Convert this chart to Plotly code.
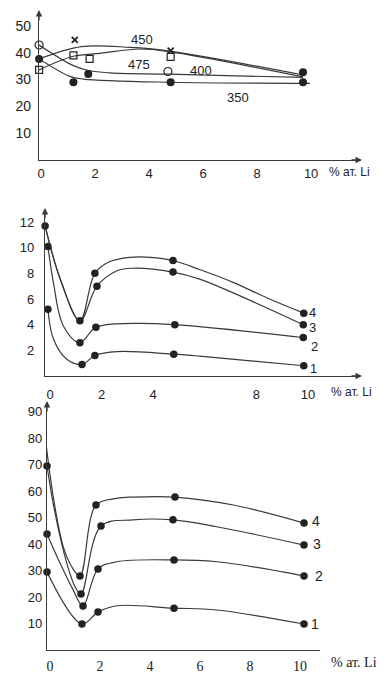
import plotly.graph_objects as go

W, H = 391, 687
OFF = 8  # page body margin in the viewer
INK = "#222222"
LINE = "#3a3a3a"
SANS = "Liberation Sans, Arial, sans-serif"
SERIF = "Liberation Serif, Times New Roman, serif"

# ---------------- Panel 1 data ----------------
p1_xticks = [0, 2, 4, 6, 8, 10]
p1_yticks = [10, 20, 30, 40, 50]
p1_open_circle_x = [-0.07, 4.7]
p1_open_circle_y = [42.9, 33.0]
p1_square_x = [-0.07, 1.2, 1.8, 4.8]
p1_square_y = [33.6, 39.0, 37.7, 38.5]
p1_cross_x = [1.25, 4.8]
p1_cross_y = [44.8, 40.8]
p1_dot_x = [-0.07, 1.2, 1.75, 4.8, 9.7, 9.7]
p1_dot_y = [37.7, 29.0, 32.1, 29.0, 32.7, 29.0]
p1_curves = {
    "450": ([-0.07, 1.5, 3.3, 4.65, 9.7], [37.7, 42.3, 42.0, 40.8, 31.7]),
    "475": ([-0.07, 1.2, 2.2, 3.67, 4.8, 9.7], [33.6, 38.7, 39.8, 41.4, 40.3, 31.0]),
    "400": ([-0.07, 1.2, 1.8, 2.55, 4.7, 9.7], [42.9, 35.2, 33.3, 32.5, 32.0, 30.8]),
    "350": ([-0.07, 1.07, 1.57, 4.78, 9.96], [37.7, 31.2, 30.2, 29.0, 28.6]),
}
p1_labels = ["450", "475", "400", "350"]

# ---------------- Panel 2 data ----------------
p2_xticks = [0, 2, 4, 8, 10]
p2_yticks = [2, 4, 6, 8, 10, 12]
p2_marker_x = [-0.19, -0.08, -0.08, 1.16, 1.16, 1.24, 1.74, 1.82, 1.78, 1.74,
               4.77, 4.77, 4.84, 4.8, 9.84, 9.82, 9.82, 9.84]
p2_marker_y = [11.7, 10.1, 5.2, 4.3, 2.6, 0.9, 8.0, 7.0, 3.8, 1.6,
               9.0, 8.1, 4.0, 1.7, 4.9, 4.0, 3.0, 0.8]
p2_curves = {
    "4": ([-0.19, 0.39, 1.16, 1.74, 2.3, 3.1, 3.9, 4.77, 5.8, 7.1, 8.4, 9.84],
          [11.7, 7.6, 4.3, 8.0, 8.9, 9.25, 9.25, 9.0, 8.3, 7.3, 6.1, 4.9]),
    "3": ([-0.19, 0.39, 1.16, 1.82, 2.6, 3.2, 4.77, 5.8, 9.82],
          [11.7, 7.6, 4.3, 7.0, 8.2, 8.4, 8.1, 7.55, 4.0]),
    "2": ([-0.08, 0.13, 0.52, 1.16, 1.78, 3.2, 4.84, 9.82],
          [10.1, 7.3, 3.9, 2.6, 3.8, 4.1, 4.0, 3.0]),
    "1": ([-0.08, 0.13, 0.65, 1.24, 1.74, 2.6, 4.8, 5.8, 9.84],
          [5.2, 2.9, 1.3, 0.9, 1.6, 1.9, 1.7, 1.55, 0.8]),
}

# ---------------- Panel 3 data ----------------
p3_xticks = [0, 2, 4, 6, 8, 10]
p3_yticks = [10, 20, 30, 40, 50, 60, 70, 80, 90]
p3_marker_x = [-0.24, -0.12, -0.12, -0.12, 1.2, 1.24, 1.32, 1.28, 1.84, 2.04, 1.92, 1.92,
               5.0, 4.92, 4.96, 4.96, 10.16, 10.16, 10.16, 10.16]
p3_marker_y = [84.2, 69.4, 43.8, 29.4, 27.9, 21.1, 16.6, 9.8, 54.7, 46.8, 30.6, 14.3,
               57.7, 49.1, 34.0, 15.8, 47.9, 39.6, 27.9, 9.8]
p3_curves = {
    "4": ([-0.24, 0.13, 0.53, 0.87, 1.2, 1.84, 2.67, 3.33, 5.0, 7.33, 10.16],
          [84.2, 57.8, 39.0, 31.4, 27.9, 54.7, 57.2, 57.7, 57.7, 54.7, 47.9]),
    "3": ([-0.12, 0.2, 0.67, 1.0, 1.24, 2.04, 3.33, 4.92, 6.67, 10.16],
          [69.4, 51.7, 32.8, 23.9, 21.1, 46.8, 49.1, 49.1, 46.5, 39.6]),
    "2": ([-0.12, 0.4, 0.93, 1.32, 1.92, 2.67, 4.96, 6.67, 9.3, 10.16],
          [43.8, 32.8, 22.6, 16.6, 30.6, 33.3, 34.0, 33.3, 29.5, 27.9]),
    "1": ([-0.12, 1.28, 1.92, 2.67, 4.96, 6.67, 10.16],
          [29.4, 9.8, 14.3, 16.7, 15.8, 15.1, 9.8]),
}


def px(x):
    return (x - OFF) / W


def py(y):
    return 1 - (y - OFF) / H


fig = go.Figure()

# curves
for name, (cx, cy) in p1_curves.items():
    fig.add_trace(go.Scatter(x=cx, y=cy, mode="lines", line=dict(color=LINE, width=1.2, shape="spline", smoothing=1.0),
                             xaxis="x", yaxis="y", showlegend=False, cliponaxis=False, hoverinfo="skip"))
for name, (cx, cy) in p2_curves.items():
    fig.add_trace(go.Scatter(x=cx, y=cy, mode="lines", line=dict(color=LINE, width=1.2, shape="spline", smoothing=1.0),
                             xaxis="x2", yaxis="y2", showlegend=False, cliponaxis=False, hoverinfo="skip"))
for name, (cx, cy) in p3_curves.items():
    fig.add_trace(go.Scatter(x=cx, y=cy, mode="lines", line=dict(color=LINE, width=1.2, shape="spline", smoothing=1.0),
                             xaxis="x3", yaxis="y3", showlegend=False, cliponaxis=False, hoverinfo="skip"))

# panel 1 markers
fig.add_trace(go.Scatter(x=p1_open_circle_x, y=p1_open_circle_y, mode="markers", xaxis="x", yaxis="y",
                         marker=dict(symbol="circle-open", size=8, color=INK, line=dict(width=1.2)),
                         showlegend=False, cliponaxis=False))
fig.add_trace(go.Scatter(x=p1_square_x, y=p1_square_y, mode="markers", xaxis="x", yaxis="y",
                         marker=dict(symbol="square-open", size=7, color=INK, line=dict(width=1.2)),
                         showlegend=False, cliponaxis=False))
fig.add_trace(go.Scatter(x=p1_cross_x, y=p1_cross_y, mode="markers", xaxis="x", yaxis="y",
                         marker=dict(symbol="x-thin", size=6, color=INK, line=dict(width=1.8, color=INK)),
                         showlegend=False, cliponaxis=False))
fig.add_trace(go.Scatter(x=p1_dot_x, y=p1_dot_y, mode="markers", xaxis="x", yaxis="y",
                         marker=dict(symbol="circle", size=8, color=INK),
                         showlegend=False, cliponaxis=False))
fig.add_trace(go.Scatter(x=p2_marker_x, y=p2_marker_y, mode="markers", xaxis="x2", yaxis="y2",
                         marker=dict(symbol="circle", size=7.5, color=INK),
                         showlegend=False, cliponaxis=False))
fig.add_trace(go.Scatter(x=p3_marker_x, y=p3_marker_y, mode="markers", xaxis="x3", yaxis="y3",
                         marker=dict(symbol="circle", size=7.5, color=INK),
                         showlegend=False, cliponaxis=False))

common = dict(showgrid=False, zeroline=False, showline=True, linecolor=LINE, linewidth=1.3,
              ticks="outside", tickcolor="rgba(0,0,0,0)", fixedrange=True, automargin=False)

fig.update_layout(
    template="none",
    width=W, height=H, margin=dict(l=0, r=0, t=0, b=0, pad=0, autoexpand=False),
    paper_bgcolor="white", plot_bgcolor="white", showlegend=False,
    xaxis=dict(common, domain=[px(39), px(360)], range=[-0.074, 11.81], tickvals=p1_xticks,
               ticklen=1, tickfont=dict(family=SANS, size=13, color=INK), anchor="y"),
    yaxis=dict(common, domain=[py(160), py(12)], range=[0, 55.2], tickvals=p1_yticks,
               ticklen=4, tickfont=dict(family=SANS, size=14, color=INK), anchor="x"),
    xaxis2=dict(common, domain=[px(45), px(360)], range=[-0.194, 12.02], tickvals=p2_xticks,
                ticklen=6, tickfont=dict(family=SANS, size=13, color=INK), anchor="y2"),
    yaxis2=dict(common, domain=[py(376), py(210)], range=[0, 12.94], tickvals=p2_yticks,
                ticklen=7, tickfont=dict(family=SANS, size=13, color=INK), anchor="x2"),
    xaxis3=dict(common, domain=[px(47), px(320)], range=[-0.12, 10.8], tickvals=p3_xticks,
                ticklen=3, tickfont=dict(family=SERIF, size=14, color=INK), anchor="y3"),
    yaxis3=dict(common, domain=[py(650), py(403)], range=[0, 93.2], tickvals=p3_yticks,
                ticklen=1, tickfont=dict(family=SANS, size=13, color=INK), anchor="x3"),
)

ann = []
# axis arrows (decoration)
for (x0, y0, dx, dy) in [(39, 10, 0, 12), (362, 160, -12, 0), (45, 208, 0, 12), (362, 376, -12, 0), (47, 401, 0, 12)]:
    ann.append(dict(x=px(x0), y=py(y0), xref="paper", yref="paper", ax=dx, ay=dy, axref="pixel", ayref="pixel",
                    text="", showarrow=True, arrowhead=2, arrowsize=1, arrowwidth=1.3, arrowcolor=LINE))


def label(txt, x, y, family, size):
    return dict(x=px(x), y=py(y), xref="paper", yref="paper", text=txt, showarrow=False,
                xanchor="center", yanchor="middle", font=dict(family=family, size=size, color=INK))


# "% ат. Li" labels
ann.append(label("% ат. Li", 349, 172, SANS, 12))
ann.append(label("% ат. Li", 351, 392, SANS, 12))
ann.append(label("% ат. Li", 354, 662, SERIF, 14))

# curve labels panel 1
for txt, (lx, ly) in zip(p1_labels, [(142, 40), (139, 64), (201, 71), (238, 97)]):
    ann.append(label(txt, lx, ly, SANS, 13))
# curve labels panel 2
for txt, (lx, ly) in zip(["4", "3", "2", "1"], [(312, 312), (312, 327), (314, 346), (313, 368)]):
    ann.append(label(txt, lx, ly, SANS, 13))
# curve labels panel 3
for txt, (lx, ly) in zip(["4", "3", "2", "1"], [(316, 521), (317, 544), (319, 576), (315, 624)]):
    ann.append(label(txt, lx, ly, SANS, 14))

fig.update_layout(annotations=ann)
fig.write_html("out.html")
